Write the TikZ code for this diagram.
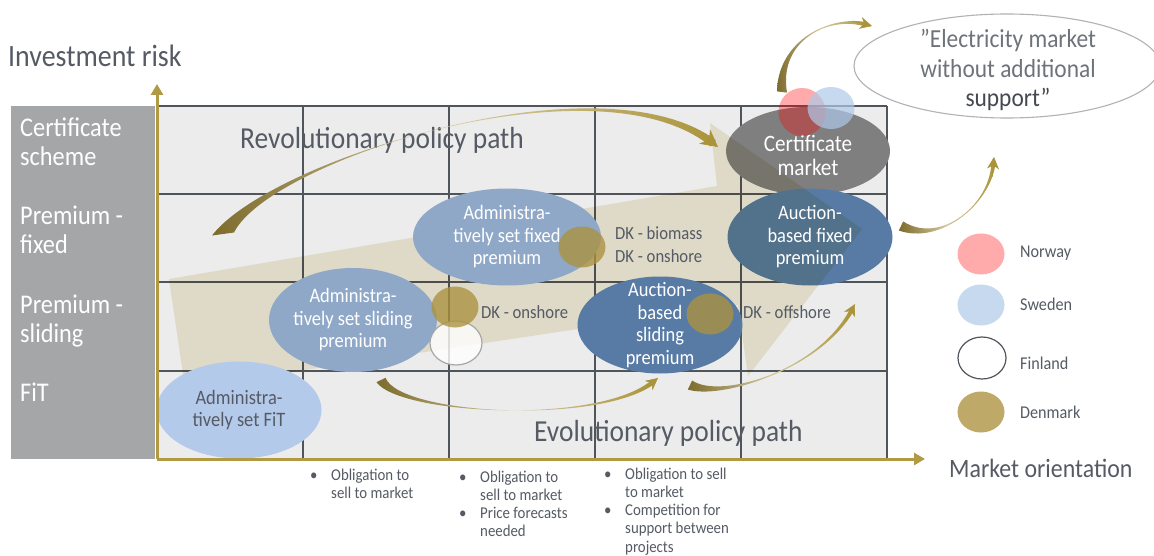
\documentclass[tikz,border=0pt]{standalone}
\usepackage{fontspec}
\setmainfont[FakeStretch=0.9]{Carlito}
\usetikzlibrary{shapes.geometric,arrows.meta,calc}

\definecolor{axisgold}{RGB}{178,153,68}
\definecolor{bandgrey}{RGB}{165,166,168}
\definecolor{cellgrey}{RGB}{236,236,236}
\definecolor{gridgrey}{RGB}{80,85,92}
\definecolor{txtgrey}{RGB}{85,90,100}
\definecolor{fitblue}{RGB}{180,202,235}
\definecolor{admblue}{RGB}{143,168,199}
\definecolor{aucblue}{RGB}{88,123,165}
\definecolor{certgrey}{RGB}{127,127,127}
\definecolor{sandbeige}{RGB}{240,236,216}
\definecolor{swDark}{RGB}{125,108,45}
\definecolor{swLight}{RGB}{212,200,158}
\definecolor{swGold}{RGB}{170,148,58}
\definecolor{dkgold}{RGB}{172,146,63}
\definecolor{noRed}{RGB}{255,0,0}
\definecolor{seBlue}{RGB}{175,201,233}

% tapered curved arrow: start, control, control, end, start offset, end offset, tip length, tip width
\newcommand{\swoosh}[8]{%
  \shade[left color=swDark, right color=swGold, middle color=swLight]
    ($(#1)+(#5)$) .. controls (#2) and (#3) .. ($($(#4)!6pt!(#3)$)+(#6)$)
    -- ($($(#4)!6pt!(#3)$)-(#6)$) .. controls (#3) and (#2) .. ($(#1)-(#5)$) -- cycle;
  \draw[swGold, line width=0.6pt, -{Stealth[length=#7, width=#8]}]
    ($(#4)!20pt!(#3)$) -- (#4);
}

\begin{document}
\begin{tikzpicture}[x=1pt, y=-1pt,
    band/.style={font=\fontsize{27}{29}\selectfont, text=white, anchor=west, align=left, inner sep=0pt},
    axislbl/.style={font=\fontsize{30.5}{34}\selectfont, text=txtgrey, anchor=west, inner sep=0pt},
    gridln/.style={gridgrey, line width=1.3pt},
    axis/.style={axisgold, line width=3pt, -{Triangle[length=11pt, width=12pt]}},
    blob/.style={ellipse, inner sep=0pt, fill=#1},
    intext/.style={font=\fontsize{20.5}{22.5}\selectfont, text=white, align=center, inner sep=0pt},
    dklbl/.style={font=\fontsize{18.5}{21}\selectfont, text=txtgrey, anchor=west, inner sep=0pt},
    lgtxt/.style={font=\fontsize{18}{21}\selectfont, text=txtgrey, anchor=west, inner sep=0pt},
    bullets/.style={anchor=north west, inner sep=0pt, font=\fontsize{16.5}{18.3}\selectfont, text=txtgrey},
    country/.style={ellipse, inner sep=0pt, minimum width=47pt, minimum height=41pt},
    dk/.style={country, fill=dkgold, fill opacity=0.78},
    no/.style={country, fill=noRed, fill opacity=0.33},
    se/.style={country, fill=seBlue, fill opacity=0.7},
    fi/.style={country, draw=gray!70, line width=1.2pt, fill=white, fill opacity=0.8}]

    \useasboundingbox (0,0) rectangle (1154,556);
    \fill[white] (0,0) rectangle (1154,556);

    \fill[bandgrey] (11,106) rectangle (155,459);
    \fill[cellgrey] (157,106) rectangle (887,459);
    \foreach \x in {303,449,595,741,887} \draw[gridln] (\x,106) -- (\x,459);
    \foreach \y in {106,194,282,371} \draw[gridln] (157,\y) -- (887,\y);

    \node[blob=certgrey, minimum width=164pt, minimum height=88pt] (cert) at (808,151) {};
    \node[blob=aucblue, minimum width=165pt, minimum height=97pt] (aucfix) at (810,237) {};

    \fill[sandbeige, blend mode=multiply] (169,279) -- (717,186) -- (710,123) -- (862,229)
        -- (748,376) -- (738,305) -- (185,388) -- cycle;

    \node[blob=fitblue, minimum width=165pt, minimum height=97pt] (fit) at (239,410) {};
    \node[blob=admblue, minimum width=168pt, minimum height=104pt] (admslide) at (353,320) {};
    \node[blob=admblue, minimum width=188pt, minimum height=97pt] (admfix) at (507,237) {};
    \node[blob=aucblue, minimum width=165pt, minimum height=97pt] (aucslide) at (660,325) {};

    \node[intext, text=txtgrey] (fitTxt) at (fit) {Administra-\\tively set FiT};
    \node[intext] (admslideTxt) at (admslide) {Administra-\\tively set sliding\\premium};
    \node[intext] (admfixTxt) at (admfix) {Administra-\\tively set fixed\\premium};
    \node[intext] (aucslideTxt) at (aucslide) {Auction-\\based\\sliding\\premium};
    \node[intext] (aucfixTxt) at (aucfix) {Auction-\\based fixed\\premium};
    \node[intext, font=\fontsize{23.5}{24}\selectfont] (certTxt) at (808,155) {Certificate\\market};

    \node[fi, minimum width=52pt, minimum height=44pt] (fiSlide) at (456,343) {};
    \node[dk] (dkSlide) at (455,307) {};
    \node[dk] (dkFix) at (582,247) {};
    \node[dk] (dkAuc) at (710,314) {};
    \node[no, minimum height=48pt] (noCert) at (802,112) {};
    \node[se, minimum height=42pt] (seCert) at (831,108) {};

    \node[dklbl] (dkBio) at (615,233) {DK - biomass};
    \node[dklbl] (dkOn) at (615,256) {DK - onshore};
    \node[dklbl] (dkOnB) at (481,312) {DK - onshore};
    \node[dklbl] (dkOff) at (743,312) {DK - offshore};

    \node[band] (rowCert) at (20,142) {Certificate\\scheme};
    \node[band] (rowFix) at (20,230) {Premium -\\fixed};
    \node[band] (rowSlide) at (20,321) {Premium -\\sliding};
    \node[band] (rowFit) at (20,392) {FiT};

    \node[ellipse, draw=gray!60, line width=1.1pt, inner sep=0pt, minimum width=306pt,
        minimum height=104pt] (elec) at (1007,66) {};
    \node[font=\fontsize{26}{29.5}\selectfont, text=txtgrey!85, align=center, inner sep=0pt]
        (elecTxt) at (1008,70) {”Electricity market\\without additional\\\textcolor{txtgrey!80!black}{support”}};

    \coordinate (origin) at (157,459);
    \coordinate (yTop) at (157,84);
    \coordinate (xEnd) at (925,459);
    \draw[axis] (origin) -- (yTop);
    \draw[axis] (origin) -- (xEnd);

    \node[axislbl, font=\fontsize{31}{34}\selectfont] (yLbl) at (8,56) {Investment risk};
    \node[axislbl, font=\fontsize{26.5}{30}\selectfont] (xLbl) at (949,468) {Market orientation};
    \node[axislbl] (revLbl) at (240,140) {Revolutionary policy path};
    \node[axislbl] (evoLbl) at (534,433) {Evolutionary policy path};

    \coordinate (revS) at (223,234);
    \coordinate (revE) at (718,147);
    \swoosh{revS}{270,160}{600,55}{revE}{11,-1.5}{2.5,-3.2}{17pt}{18pt}
    \coordinate (evoAS) at (381,380);
    \coordinate (evoAE) at (658,378);
    \swoosh{evoAS}{400,415}{600,425}{evoAE}{4.5,-2.2}{1.5,1.8}{12pt}{12pt}
    \coordinate (evoBS) at (690,385);
    \coordinate (evoBE) at (855,304);
    \swoosh{evoBS}{720,400}{820,370}{evoBE}{-2.2,4.5}{1.9,1}{12pt}{12pt}
    \coordinate (certS) at (782,92);
    \coordinate (elecE) at (872,26);
    \swoosh{certS}{778,40}{830,15}{elecE}{5,0.6}{-0.6,2.2}{12pt}{12pt}
    \coordinate (fixS) at (901,226);
    \coordinate (fixE) at (994,157);
    \swoosh{fixS}{940,245}{990,205}{fixE}{-2.2,4.5}{2.2,0}{12pt}{12pt}

    \node[bullets] (noteA) at (310,467) {\begin{tabular}{@{}p{21pt}@{}l@{}}
        \textbullet & Obligation to\\ & sell to market\end{tabular}};
    \node[bullets] (noteB) at (459,469) {\begin{tabular}{@{}p{21pt}@{}l@{}}
        \textbullet & Obligation to\\ & sell to market\\
        \textbullet & Price forecasts\\ & needed\end{tabular}};
    \node[bullets] (noteC) at (604,466) {\begin{tabular}{@{}p{21pt}@{}l@{}}
        \textbullet & Obligation to sell\\ & to market\\
        \textbullet & Competition for\\ & support between\\ & projects\end{tabular}};

    \node[no] (lgNo) at (981,254) {};
    \node[lgtxt] (lgNoTxt) at (1020,253) {Norway};
    \node[se] (lgSe) at (981,305) {};
    \node[lgtxt] (lgSeTxt) at (1020,304) {Sweden};
    \node[fi, draw=gridgrey, fill opacity=1, minimum width=48pt, minimum height=42pt] (lgFi) at (982,358) {};
    \node[lgtxt] (lgFiTxt) at (1020,363) {Finland};
    \node[dk] (lgDk) at (981,412) {};
    \node[lgtxt] (lgDkTxt) at (1020,412) {Denmark};
\end{tikzpicture}
\end{document}
